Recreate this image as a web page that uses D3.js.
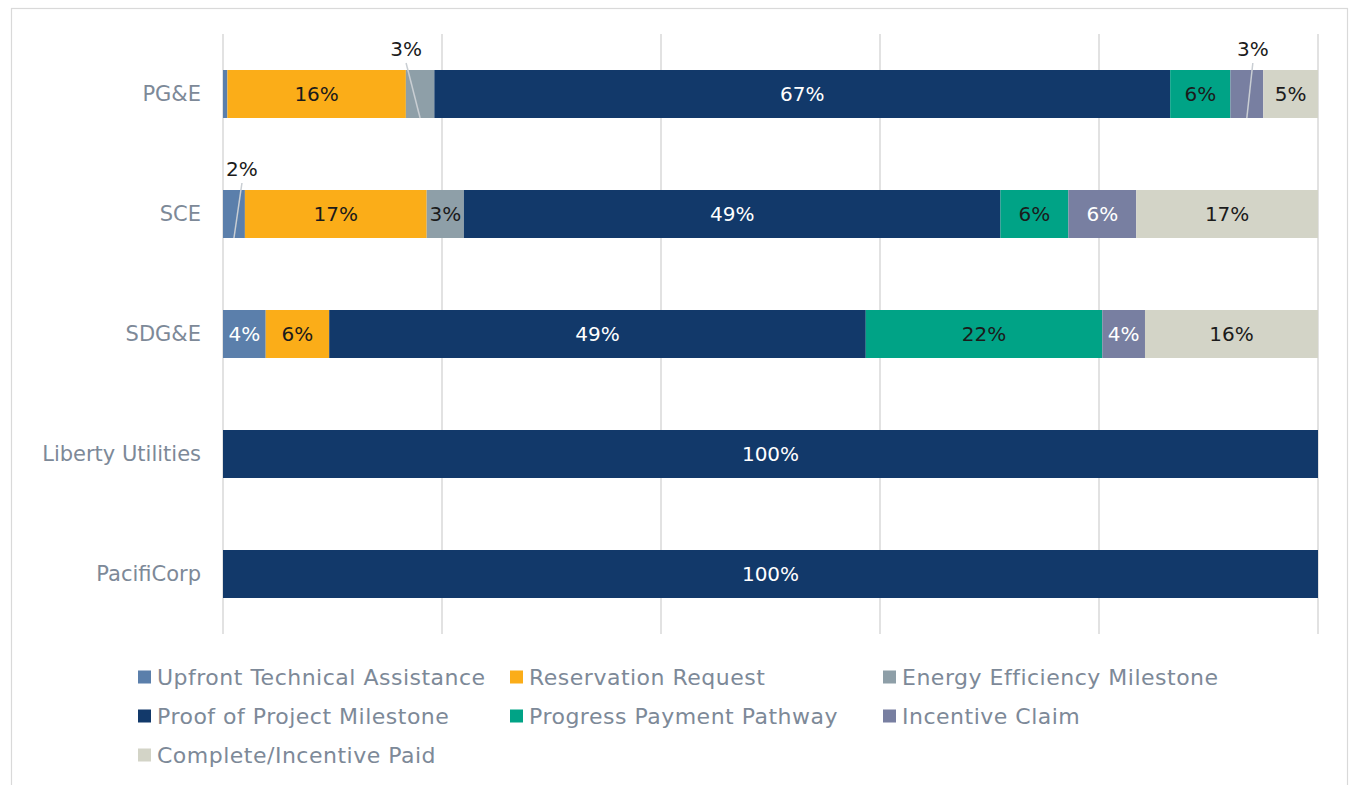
<!DOCTYPE html>
<html>
<head>
<meta charset="utf-8">
<script src="https://cdn.jsdelivr.net/npm/d3@7"></script>
<style>
  body { margin: 0; background: #fff; }
  svg text { font-family: "DejaVu Sans", sans-serif; }
</style>
</head>
<body>
<div id="chart"></div>
<script>
// categories (top to bottom)
const utilities = ['PG&E', 'SCE', 'SDG&E', 'Liberty Utilities', 'PacifiCorp'];

// stage names, stacking order left to right
const stages = [
  'Upfront Technical Assistance',
  'Reservation Request',
  'Energy Efficiency Milestone',
  'Proof of Project Milestone',
  'Progress Payment Pathway',
  'Incentive Claim',
  'Complete/Incentive Paid'
];

// share of projects per stage (%), one array per stage, in utility order
const upfront     = [0.4, 2.0, 3.9, 0, 0];
const reservation = [16.3, 16.6, 5.8, 0, 0];
const eeMilestone = [2.6, 3.4, 0, 0, 0];
const proofMile   = [67.2, 49.0, 49.0, 100, 100];
const progressPay = [5.5, 6.2, 21.6, 0, 0];
const incentive   = [3.0, 6.2, 3.9, 0, 0];
const complete    = [5.0, 16.6, 15.8, 0, 0];

const xTicks = [0, 20, 40, 60, 80, 100];

const seriesValues = [upfront, reservation, eeMilestone, proofMile, progressPay, incentive, complete];
const colors = ['#5b7fab', '#fbad18', '#8e9fa8', '#12396a', '#00a386', '#787fa1', '#d3d4c7'];
const labelColors = ['#ffffff', '#1b1b1b', '#1b1b1b', '#ffffff', '#1b1b1b', '#ffffff', '#1b1b1b'];

// small segments whose labels sit above the bar with a leader line
const callouts = [
  { utility: 'PG&E', stage: 'Energy Efficiency Milestone', dx: -14 },
  { utility: 'PG&E', stage: 'Incentive Claim', dx: 6 },
  { utility: 'SCE', stage: 'Upfront Technical Assistance', dx: 8 }
];

const width = 1351, height = 785;
const svg = d3.select('#chart').append('svg')
  .attr('width', width).attr('height', height);

// chart area border
svg.append('rect')
  .attr('x', 11.5).attr('y', 8.5)
  .attr('width', 1336).attr('height', 800)
  .attr('fill', 'none').attr('stroke', '#d9d9d9').attr('stroke-width', 1.2);

const x = d3.scaleLinear().domain([0, 100]).range([223, 1318]);
const y = d3.scaleBand().domain(utilities).range([34, 634])
  .paddingInner(0.6).paddingOuter(0.3);

// gridlines
svg.append('g')
  .selectAll('line').data(xTicks).enter().append('line')
  .attr('x1', d => x(d)).attr('x2', d => x(d))
  .attr('y1', 34).attr('y2', 634)
  .attr('stroke', '#d9d9d9').attr('stroke-width', 1.5);

// category axis
const yAxis = svg.append('g')
  .attr('transform', 'translate(211,0)')
  .call(d3.axisLeft(y).tickSize(0).tickPadding(10));
yAxis.select('.domain').remove();
yAxis.selectAll('text')
  .style('font-size', '21px')
  .style('font-family', '"DejaVu Sans", sans-serif')
  .attr('fill', '#7d8998');

// stacked data
const rows = utilities.map((u, i) => {
  const r = { utility: u };
  stages.forEach((s, j) => { r[s] = seriesValues[j][i]; });
  return r;
});
const stack = d3.stack().keys(stages)(rows);

const layers = svg.append('g').selectAll('g')
  .data(stack).enter().append('g')
  .attr('fill', (d, i) => colors[i]);

layers.selectAll('rect')
  .data(d => d.filter(p => p[1] - p[0] > 0))
  .enter().append('rect')
  .attr('x', d => x(d[0]))
  .attr('y', d => y(d.data.utility))
  .attr('width', d => x(d[1]) - x(d[0]))
  .attr('height', y.bandwidth());

const isCallout = (u, s) => callouts.some(c => c.utility === u && c.stage === s);
const fmt = v => Math.round(v) + '%';

// inside labels
stack.forEach((layer, i) => {
  const key = layer.key;
  svg.append('g').selectAll('text')
    .data(layer.filter(p => p[1] - p[0] >= 1 && !isCallout(p.data.utility, key)))
    .enter().append('text')
    .attr('x', d => x((d[0] + d[1]) / 2))
    .attr('y', d => y(d.data.utility) + y.bandwidth() / 2)
    .attr('dy', '0.36em')
    .attr('text-anchor', 'middle')
    .style('font-size', '20px')
    .attr('fill', labelColors[i])
    .text(d => fmt(d[1] - d[0]));
});

// callout labels above the bar
callouts.forEach(c => {
  const layer = stack.find(l => l.key === c.stage);
  const p = layer.find(d => d.data.utility === c.utility);
  const cx = x((p[0] + p[1]) / 2);
  const top = y(c.utility);
  const lx = cx + c.dx;
  svg.append('line')
    .attr('x1', lx).attr('y1', top - 7)
    .attr('x2', cx).attr('y2', top + y.bandwidth())
    .attr('stroke', '#c9ced3').attr('stroke-width', 1.5);
  svg.append('text')
    .attr('x', lx).attr('y', top - 14)
    .attr('text-anchor', 'middle')
    .style('font-size', '20px')
    .attr('fill', '#1b1b1b')
    .text(fmt(p[1] - p[0]));
});

// legend
const legendCols = [138, 510, 883];
const legendRows = [677, 716, 755];
const legend = svg.append('g').selectAll('g')
  .data(stages).enter().append('g')
  .attr('transform', (d, i) => `translate(${legendCols[i % 3]},${legendRows[Math.floor(i / 3)]})`);
legend.append('rect')
  .attr('x', 0).attr('y', -6.5)
  .attr('width', 13).attr('height', 13)
  .attr('fill', (d, i) => colors[i]);
legend.append('text')
  .attr('x', 19).attr('dy', '0.36em')
  .style('font-size', '22px')
  .style('letter-spacing', '0.5px')
  .attr('fill', '#7d8998')
  .text(d => d);
</script>
</body>
</html>
